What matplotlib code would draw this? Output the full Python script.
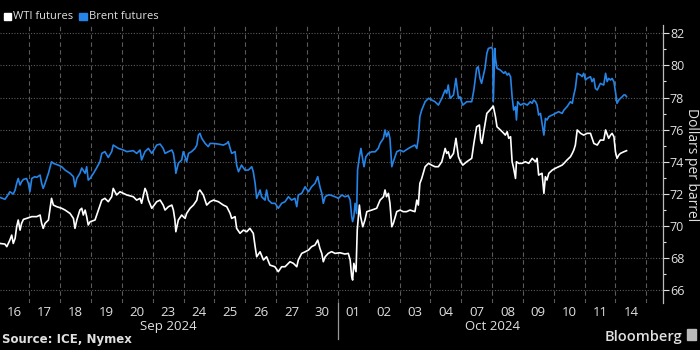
import numpy as np
import matplotlib.pyplot as plt
import matplotlib.transforms as mtransforms


# trading-day labels (one slot per session)
day_labels = ['16', '17', '18', '19', '20', '23', '24', '25', '26', '27', '30',
              '01', '02', '03', '04', '07', '08', '09', '10', '11', '14']
month_labels = ['Sep 2024', 'Oct 2024']
month_start = [0, 11]
month_end = [11, 21]

# intraday prices, time measured in trading sessions from Sep 16
wti_t = [0.05, 0.21, 0.27, 0.37, 0.43, 0.48, 0.54, 0.59, 0.64, 0.70, 0.75, 0.81, 0.91, 1.08,
         1.24, 1.35, 1.40, 1.45, 1.51, 1.62, 1.72, 1.78, 1.89, 2.05, 2.16, 2.32, 2.43, 2.48,
         2.54, 2.64, 2.70, 2.75, 2.81, 2.86, 2.91, 2.97, 3.13, 3.24, 3.35, 3.45, 3.56, 3.67,
         3.72, 3.83, 3.94, 4.16, 4.37, 4.48, 4.59, 4.64, 4.75, 4.80, 4.86, 4.97, 5.13, 5.24,
         5.34, 5.40, 5.51, 5.62, 5.67, 5.72, 5.75, 5.83, 5.94, 5.99, 6.05, 6.10, 6.21, 6.32,
         6.43, 6.48, 6.53, 6.64, 6.75, 6.86, 6.97, 7.13, 7.29, 7.40, 7.51, 7.56, 7.67, 7.72,
         7.83, 7.94, 8.05, 8.15, 8.26, 8.32, 8.37, 8.48, 8.59, 8.69, 8.80, 8.96, 9.07, 9.18,
         9.29, 9.45, 9.56, 9.67, 9.72, 9.83, 9.94, 10.05, 10.15, 10.26, 10.35, 10.42, 10.48,
         10.53, 10.59, 10.69, 10.80, 10.91, 11.07, 11.23, 11.34, 11.40, 11.45, 11.48, 11.52,
         11.59, 11.63, 11.70, 11.74, 11.81, 11.88, 11.94, 12.10, 12.26, 12.37, 12.48, 12.53,
         12.58, 12.64, 12.69, 12.75, 12.80, 12.91, 13.02, 13.12, 13.23, 13.34, 13.50, 13.56,
         13.61, 13.66, 13.72, 13.83, 13.94, 14.04, 14.15, 14.26, 14.37, 14.48, 14.53, 14.58,
         14.64, 14.75, 14.83, 14.91, 14.98, 15.05, 15.18, 15.34, 15.41, 15.50, 15.59, 15.63,
         15.67, 15.74, 15.83, 15.93, 16.04, 16.11, 16.16, 16.27, 16.38, 16.43, 16.49, 16.54,
         16.60, 16.65, 16.70, 16.76, 16.79, 16.87, 16.97, 17.08, 17.19, 17.30, 17.41, 17.46,
         17.51, 17.62, 17.68, 17.73, 17.78, 17.84, 17.95, 18.05, 18.16, 18.27, 18.33, 18.43,
         18.54, 18.60, 18.65, 18.70, 18.76, 18.87, 18.97, 19.08, 19.19, 19.30, 19.41, 19.51,
         19.62, 19.68, 19.78, 19.84, 19.89, 19.95, 20.00, 20.05, 20.11, 20.16, 20.27, 20.36]
wti_px = [68.91, 68.87, 68.71, 69.12, 69.43, 68.91, 69.23, 69.95, 70.37, 69.74, 70.16, 70.41,
          70.47, 70.58, 70.58, 70.68, 70.16, 69.85, 70.16, 70.37, 71.72, 71.30, 71.20, 71.10,
          70.99, 70.78, 70.47, 69.85, 70.37, 70.99, 71.10, 70.68, 70.99, 70.58, 70.06, 70.26,
          70.37, 70.99, 71.61, 71.72, 71.51, 71.82, 72.34, 71.93, 72.13, 71.93, 71.82, 71.61,
          71.72, 71.41, 72.34, 72.13, 71.61, 71.10, 71.51, 71.61, 71.30, 70.99, 71.20, 71.30,
          70.99, 70.37, 69.64, 70.37, 70.68, 70.58, 70.47, 70.78, 71.10, 71.30, 71.61, 72.13,
          72.24, 71.93, 71.30, 71.51, 71.61, 71.51, 71.30, 71.20, 70.78, 70.47, 70.58, 69.85,
          69.54, 69.74, 69.64, 69.85, 69.54, 68.71, 68.08, 68.39, 67.88, 68.08, 67.56, 67.46,
          67.15, 67.46, 67.46, 67.77, 67.67, 67.46, 67.88, 68.29, 68.39, 68.50, 68.71, 68.81,
          69.12, 68.60, 68.29, 67.77, 68.08, 68.29, 68.40, 68.29, 68.33, 68.25, 68.29, 67.88,
          66.84, 66.63, 67.67, 67.15, 69.75, 71.30, 70.58, 69.95, 70.37, 70.89, 70.99, 71.10,
          71.61, 71.82, 72.24, 71.82, 72.03, 71.41, 69.95, 70.16, 70.89, 70.99, 70.89, 70.89,
          70.99, 70.89, 71.61, 71.30, 72.65, 72.96, 73.69, 73.90, 73.79, 73.69, 73.69, 74.00,
          74.83, 74.52, 74.62, 74.21, 74.52, 75.46, 74.31, 74.00, 73.79, 74.00, 74.21, 75.14,
          76.18, 76.29, 75.35, 75.14, 75.98, 77.01, 77.22, 77.47, 76.81, 76.18, 75.98, 75.77,
          75.66, 75.87, 75.46, 75.56, 74.00, 73.59, 72.96, 74.00, 73.90, 73.90, 74.00, 73.90,
          74.21, 74.00, 74.21, 73.17, 73.28, 72.03, 73.07, 72.86, 73.28, 73.48, 73.59, 73.69,
          73.79, 73.90, 74.11, 74.31, 74.52, 74.73, 75.04, 75.98, 75.77, 75.66, 75.77, 75.77,
          75.14, 75.04, 75.35, 75.35, 75.98, 75.46, 75.66, 75.77, 75.56, 74.62, 74.21, 74.42,
          74.52, 74.62, 74.69]

brent_t = [0.05, 0.21, 0.27, 0.37, 0.48, 0.54, 0.59, 0.64, 0.70, 0.75, 0.81, 0.91, 0.97, 1.02,
           1.08, 1.18, 1.24, 1.35, 1.40, 1.45, 1.51, 1.62, 1.72, 1.78, 1.94, 2.05, 2.16, 2.32,
           2.43, 2.48, 2.54, 2.64, 2.70, 2.81, 2.86, 2.91, 2.97, 3.08, 3.18, 3.29, 3.35, 3.45,
           3.56, 3.67, 3.72, 3.89, 4.05, 4.16, 4.37, 4.48, 4.59, 4.64, 4.75, 4.86, 4.97, 5.13,
           5.24, 5.34, 5.40, 5.51, 5.62, 5.67, 5.72, 5.75, 5.83, 5.94, 5.99, 6.05, 6.10, 6.16,
           6.26, 6.37, 6.43, 6.48, 6.53, 6.59, 6.70, 6.80, 6.86, 6.97, 7.13, 7.29, 7.40, 7.45,
           7.51, 7.56, 7.67, 7.72, 7.78, 7.88, 7.99, 8.10, 8.21, 8.26, 8.32, 8.37, 8.48, 8.53,
           8.64, 8.69, 8.75, 8.86, 8.97, 9.07, 9.18, 9.29, 9.40, 9.50, 9.61, 9.67, 9.72, 9.83,
           9.94, 10.05, 10.15, 10.26, 10.35, 10.42, 10.48, 10.53, 10.59, 10.69, 10.75, 10.91,
           11.02, 11.13, 11.23, 11.34, 11.40, 11.45, 11.48, 11.52, 11.56, 11.61, 11.64, 11.70,
           11.75, 11.81, 11.85, 11.91, 11.99, 12.10, 12.21, 12.31, 12.37, 12.48, 12.53, 12.58,
           12.64, 12.69, 12.75, 12.80, 12.91, 13.02, 13.12, 13.29, 13.39, 13.50, 13.56, 13.61,
           13.66, 13.72, 13.83, 13.94, 14.04, 14.15, 14.26, 14.37, 14.48, 14.53, 14.58, 14.64,
           14.75, 14.83, 14.91, 14.96, 15.05, 15.18, 15.34, 15.41, 15.50, 15.55, 15.61, 15.66,
           15.72, 15.77, 15.83, 15.88, 15.99, 16.02, 16.04, 16.09, 16.11, 16.16, 16.27, 16.38,
           16.43, 16.49, 16.54, 16.60, 16.65, 16.70, 16.76, 16.79, 16.83, 16.92, 17.03, 17.14,
           17.24, 17.30, 17.35, 17.41, 17.46, 17.51, 17.57, 17.62, 17.68, 17.73, 17.78, 17.84,
           17.95, 18.05, 18.16, 18.27, 18.33, 18.43, 18.54, 18.60, 18.65, 18.70, 18.76, 18.87,
           18.92, 18.97, 19.03, 19.08, 19.19, 19.24, 19.30, 19.35, 19.41, 19.51, 19.62, 19.68,
           19.73, 19.78, 19.84, 19.89, 19.95, 20.00, 20.05, 20.11, 20.16, 20.22, 20.27, 20.32,
           20.36]
brent_px = [71.78, 71.66, 71.82, 72.13, 71.99, 72.24, 72.65, 72.96, 72.55, 72.76, 72.90, 72.96,
            72.65, 72.13, 72.96, 73.07, 73.03, 73.17, 72.65, 72.34, 72.65, 73.28, 74.00, 73.90,
            73.79, 73.69, 73.48, 73.28, 73.07, 72.44, 72.96, 73.28, 73.61, 73.28, 73.69, 72.86,
            72.96, 73.28, 73.61, 74.00, 74.52, 74.63, 74.27, 74.63, 75.04, 74.83, 74.73, 74.63,
            74.69, 74.52, 74.73, 74.11, 74.63, 74.83, 74.52, 75.04, 75.10, 74.83, 74.52, 74.63,
            74.73, 74.52, 73.90, 73.28, 73.90, 74.11, 74.63, 74.31, 74.00, 74.52, 74.63, 74.83,
            75.04, 75.66, 75.77, 75.46, 75.14, 74.94, 75.14, 75.14, 75.10, 75.04, 75.14, 75.25,
            74.83, 74.52, 74.63, 73.79, 73.38, 73.79, 73.48, 73.48, 73.69, 73.38, 72.65, 71.72,
            72.24, 71.82, 71.61, 72.24, 71.61, 71.41, 71.41, 71.10, 71.41, 71.51, 71.82, 71.61,
            71.72, 71.20, 71.93, 72.03, 72.44, 72.13, 72.44, 72.65, 73.07, 72.44, 72.03, 71.41,
            71.82, 71.93, 71.93, 71.82, 71.72, 71.93, 71.82, 71.89, 71.61, 70.58, 70.27, 70.58,
            71.41, 70.78, 73.48, 74.31, 74.83, 74.11, 73.69, 74.31, 74.52, 74.62, 74.62, 74.83,
            75.14, 75.46, 75.98, 75.56, 75.87, 75.46, 73.69, 74.00, 74.62, 74.73, 74.62, 74.83,
            74.94, 75.04, 74.83, 75.46, 76.81, 77.22, 77.74, 77.95, 77.85, 77.74, 77.53, 77.95,
            78.47, 78.26, 78.78, 77.95, 78.16, 79.19, 77.95, 78.05, 77.53, 77.74, 77.74, 78.47,
            79.82, 79.92, 79.19, 78.88, 79.40, 79.82, 80.75, 81.06, 81.13, 80.96, 77.74, 81.06,
            80.44, 79.82, 79.71, 79.51, 79.61, 79.40, 79.51, 79.30, 78.05, 77.22, 77.43, 76.60,
            77.74, 77.53, 77.64, 77.53, 77.74, 77.64, 77.85, 77.74, 77.53, 76.91, 77.01, 76.39,
            75.66, 76.70, 76.60, 76.81, 76.91, 77.01, 77.12, 77.01, 77.22, 77.43, 77.74, 77.64,
            78.16, 78.57, 79.51, 79.40, 79.30, 79.51, 79.09, 79.19, 79.30, 78.99, 79.19, 78.57,
            78.47, 78.88, 78.78, 79.51, 78.99, 79.19, 79.09, 79.19, 78.99, 78.36, 77.64, 77.85,
            77.95, 78.05, 78.16, 78.16, 78.05]

BG = '#000000'
WTI_COLOR = '#ffffff'
BRENT_COLOR = '#2584e6'
TEXT = '#e0e0e0'
GRID = '#5a5a5a'

plt.rcParams['font.family'] = ['Open Sans', 'DejaVu Sans']

fig = plt.figure(figsize=(7, 3.5), dpi=100, facecolor=BG)
ax = fig.add_axes([0.0, 0.1343, 0.9471, 0.7943], facecolor=BG)

ax.plot(brent_t, brent_px, color=BRENT_COLOR, lw=1.2, zorder=3)
ax.plot(wti_t, wti_px, color=WTI_COLOR, lw=1.2, zorder=4)

ax.set_xlim(0.05, 21.54)
ax.set_ylim(65.2, 82.52)

# y axis on the right
ax.yaxis.tick_right()
ax.set_yticks(np.arange(66, 83, 2))
ax.set_yticks(np.arange(67, 83, 2), minor=True)
ax.tick_params(axis='y', which='major', colors=TEXT, labelsize=9, length=4,
               width=0.8, pad=1)
ax.tick_params(axis='y', which='minor', colors=TEXT, length=2.5, width=0.8)
fig.text(0.988, 0.531, 'Dollars per barrel', color=TEXT, fontsize=10,
         rotation=-90, ha='center', va='center')

# session boundaries as dashed gridlines, labels centred in each session
ax.set_xticks(np.arange(1, 22), minor=False)
ax.set_xticklabels([])
ax.tick_params(axis='x', which='major', length=0)
ax.set_xticks(np.arange(len(day_labels)) + 0.5, minor=True)
ax.set_xticklabels(day_labels, minor=True)
ax.tick_params(axis='x', which='minor', length=0, colors=TEXT, labelsize=9.5, pad=2)

ax.grid(axis='x', which='major', color=GRID, ls=(0, (4, 3)), lw=0.8)
ax.grid(axis='y', which='major', color=GRID, ls=(0, (1, 1.5)), lw=0.8)
ax.set_axisbelow(True)

for side in ['left', 'top', 'bottom']:
    ax.spines[side].set_visible(False)
ax.spines['right'].set_color('#bbbbbb')
ax.spines['right'].set_linewidth(0.9)

# month labels and the month separator under the axis
trans = mtransforms.blended_transform_factory(ax.transData, ax.transAxes)
for name, a, b in zip(month_labels, month_start, month_end):
    ax.text((a + b) / 2, -0.062, name, transform=trans, ha='center', va='top',
            color=TEXT, fontsize=9.5)
ax.plot([month_start[1], month_start[1]], [0, -0.13], transform=trans,
        color='#999999', lw=0.9, clip_on=False)

# legend
fig.patches.append(plt.Rectangle((0.005, 0.942), 0.011, 0.022, color=WTI_COLOR,
                                 transform=fig.transFigure))
fig.text(0.019, 0.953, 'WTI futures', color=TEXT, fontsize=8, va='center')
fig.patches.append(plt.Rectangle((0.113, 0.942), 0.011, 0.022, color=BRENT_COLOR,
                                 transform=fig.transFigure))
fig.text(0.127, 0.953, 'Brent futures', color=TEXT, fontsize=8, va='center')

fig.text(0.003, 0.02, 'Source: ICE, Nymex', color=TEXT, fontsize=8.5,
         fontweight='bold', family='DejaVu Sans')
fig.text(0.975, 0.025, 'Bloomberg', color=TEXT, fontsize=10.5, ha='right',
         fontweight='semibold')
fig.patches.append(plt.Rectangle((0.981, 0.03), 0.014, 0.03, color='#bbbbbb',
                                 transform=fig.transFigure))

fig.savefig('out.png', dpi=100, facecolor=BG)
